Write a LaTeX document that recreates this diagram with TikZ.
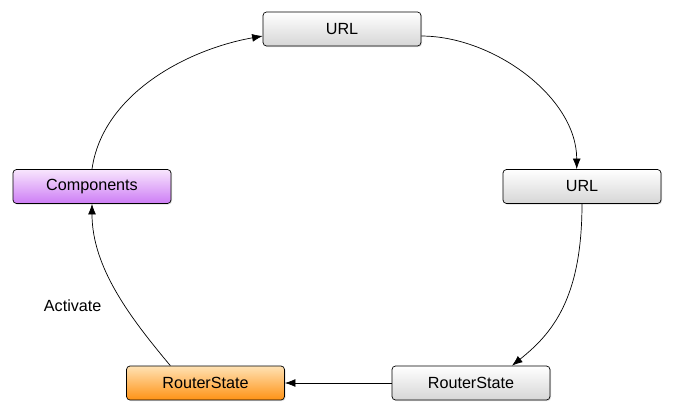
\documentclass[tikz,border=0pt]{standalone}
\usepackage{fontspec}
\setmainfont{Liberation Sans}
\usetikzlibrary{arrows.meta,shadows}
\definecolor{boxgray}{RGB}{214,214,214}
\definecolor{violet}{RGB}{205,125,245}
\definecolor{lilac}{RGB}{248,230,253}
\definecolor{amber}{RGB}{255,146,20}
\definecolor{cream}{RGB}{255,226,180}
\tikzset{
  state/.style={draw, rounded corners=2pt, minimum width=3.16cm, minimum height=0.68cm,
    top color=white, bottom color=boxgray, font=\fontsize{9.2}{11}\selectfont,
    drop shadow={opacity=0.25, shadow xshift=0.6pt, shadow yshift=-0.6pt}},
  flow/.style={-{Latex[length=6pt,width=4.5pt]}, thin}
}
\begin{document}
\begin{tikzpicture}[x=0.02cm, y=-0.02cm]
\useasboundingbox (0,0) rectangle (674,419);
\node[state] (url) at (342,29) {URL};
\node[state] (parsed) at (582,186.5) {URL};
\node[state] (tree) at (471,383) {RouterState};
\node[state, top color=cream, bottom color=amber] (active) at (205.5,383) {RouterState};
\node[state, top color=lilac, bottom color=violet] (comps) at (92,186.5) {Components};
% the cycle
\draw[flow] (comps.north) to[out=82, in=190, looseness=0.9] ([yshift=-4pt]url.west);
\draw[flow] ([yshift=-4pt]url.east) to[out=0, in=90, looseness=0.9] ([xshift=-3pt]parsed.north);
\draw[flow] (parsed.south) .. controls +(0,95) and +(40,-32) .. ([xshift=0.82cm]tree.north);
\draw[flow] (tree.west) -- (active.east);
\draw[flow] ([xshift=-20pt]active.north) to[out=130, in=-90, looseness=0.9]
  node[pos=0.4, left=10pt, font=\fontsize{9.2}{11}\selectfont] (act) {Activate} (comps.south);
\end{tikzpicture}
\end{document}
